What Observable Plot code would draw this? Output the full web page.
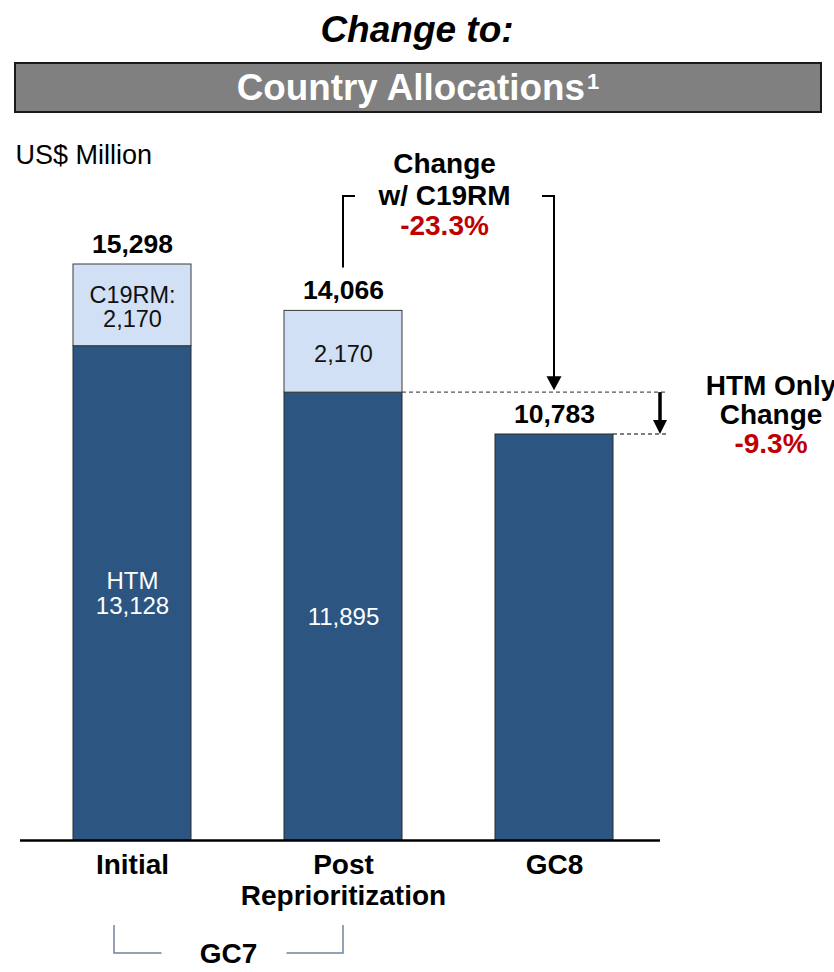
<!DOCTYPE html>
<html>
<head>
<meta charset="utf-8">
<script src="https://cdn.jsdelivr.net/npm/d3@7"></script>
<script src="https://cdn.jsdelivr.net/npm/@observablehq/plot@0.6"></script>
<style>
  html, body { margin: 0; padding: 0; background: #fff; }
  body { width: 834px; height: 972px; overflow: hidden; font-family: "Liberation Sans", Arial, sans-serif; }
  #hdr { position: relative; height: 130px; }
  #title { position: absolute; left: 0; top: 10px; width: 834px; text-align: center; font-weight: bold; font-style: italic; font-size: 37px; line-height: 40px; color: #000; }
  #box { position: absolute; left: 14px; top: 62px; width: 808px; height: 51px; box-sizing: border-box; background: #808080; border: 2px solid #1a1a1a; color: #fff; font-weight: bold; font-size: 36.8px; text-align: center; line-height: 47px; white-space: nowrap; }
  #box sup { font-size: 22px; position: relative; top: -11px; vertical-align: baseline; line-height: 0; margin-left: 2px; }
  #chart svg { display: block; }
</style>
</head>
<body>
<div id="hdr">
  <div id="title">Change to:</div>
  <div id="box">Country Allocations<sup>1</sup></div>
</div>
<div id="chart"></div>
<script>
// ---- data ----
const categories = ["Initial", "Post Reprioritization", "GC8"];
const tickLabels = ["Initial", "Post\nReprioritization", "GC8"];
const htmValues = [13128, 11895, 10783];
const c19rmValues = [2170, 2170, 0];
const totalValues = [15298, 14066, 10783];
const htmLabels = ["HTM\n13,128", "11,895", ""];
const c19rmLabels = ["C19RM:\n2,170", "2,170", ""];
const changeWithC19RM = "-23.3%";
const changeHTMOnly = "-9.3%";
const groupLabel = "GC7";

const rows = categories.map((c, i) => ({
  cat: c, htm: htmValues[i], c19: c19rmValues[i], total: totalValues[i],
  htmLabel: htmLabels[i], c19Label: c19rmLabels[i]
}));

const DARK = "#2C5681", LIGHT = "#D1E0F5", RED = "#C00000";
const FONT = "'Liberation Sans', Arial, sans-serif";
const W = 834, H = 842;

const chart = Plot.plot({
  width: W, height: H,
  marginLeft: 20, marginRight: 174, marginTop: 20, marginBottom: 132,
  style: { fontFamily: FONT, background: "#fff", overflow: "visible" },
  x: { type: "band", domain: categories, range: [72, 614], paddingInner: 0.443, paddingOuter: 0, axis: null },
  y: { domain: [0, d3.max(totalValues)], range: [710, 134], axis: null },
  marks: [
    Plot.barY(rows, { x: "cat", y1: 0, y2: "htm", fill: DARK, stroke: "#2a2a2a", strokeWidth: 1 }),
    Plot.barY(rows.filter(d => d.c19 > 0), { x: "cat", y1: "htm", y2: "total", fill: LIGHT, stroke: "#3a3a3a", strokeWidth: 1 }),
    Plot.ruleY([0], { stroke: "#000", strokeWidth: 2.5 }),
    Plot.text(rows, { x: "cat", y: d => d.htm / 2, text: "htmLabel", fill: "#fff", fontSize: 24, lineHeight: 1.05 }),
    Plot.text(rows.filter(d => d.c19 > 0), { x: "cat", y: d => d.htm + d.c19 / 2, text: "c19Label", fill: "#111", fontSize: 23.5, lineHeight: 1.04, dy: 2 }),
    Plot.text(rows, { x: "cat", y: "total", text: d => d3.format(",")(d.total), fontWeight: "bold", fontSize: 26.5, fill: "#000", dy: -20 }),
    Plot.axisX({ domain: categories, tickFormat: d => tickLabels[categories.indexOf(d)], tickSize: 0, tickPadding: 12.5, fontSize: 28, fontWeight: "bold", fill: "#000", lineHeight: 1.08, label: null }),
    Plot.text(["US$ Million"], { frameAnchor: "top-left", dx: -5, dy: -6, fontSize: 27, fill: "#000", textAnchor: "start" })
  ]
});

document.getElementById("chart").appendChild(chart);

// ---- annotations positioned via the chart's scales ----
const xs = chart.scale("x"), ys = chart.scale("y");
const bw = xs.bandwidth;
const cx = c => xs.apply(c) + bw / 2;
const right = c => xs.apply(c) + bw;
const svg = d3.select(chart);
const g = svg.append("g").attr("font-family", FONT);

const xPost = cx(categories[1]), xGC8 = cx(categories[2]), xInit = cx(categories[0]);
const yPostHTM = ys.apply(htmValues[1]);
const yGC8 = ys.apply(htmValues[2]);
const yPostTop = ys.apply(totalValues[1]);
const bracketY = 66;
const annX = (xPost + xGC8) / 2 - 4;

// Change w/ C19RM bracket
g.append("path").attr("d", `M${xPost},${yPostTop - 43} V${bracketY} H${xPost + 12}`)
  .attr("fill", "none").attr("stroke", "#000").attr("stroke-width", 2);
g.append("path").attr("d", `M${xGC8 - 12},${bracketY} H${xGC8} V${yPostHTM - 14}`)
  .attr("fill", "none").attr("stroke", "#000").attr("stroke-width", 2);
g.append("path").attr("d", `M${xGC8 - 7.5},${yPostHTM - 16} L${xGC8 + 7.5},${yPostHTM - 16} L${xGC8},${yPostHTM - 2} Z`).attr("fill", "#000");

const t1 = g.append("text").attr("text-anchor", "middle").attr("font-weight", "bold").attr("font-size", 28);
t1.append("tspan").attr("x", annX).attr("y", 43).text("Change");
t1.append("tspan").attr("x", annX).attr("y", 75).text("w/ C19RM");
t1.append("tspan").attr("x", annX).attr("y", 105).attr("fill", RED).text(changeWithC19RM);

// dashed reference lines
const dashX2 = 668;
g.append("line").attr("x1", right(categories[1])).attr("x2", dashX2).attr("y1", yPostHTM).attr("y2", yPostHTM)
  .attr("stroke", "#555").attr("stroke-width", 1.3).attr("stroke-dasharray", "4,3");
g.append("line").attr("x1", right(categories[2])).attr("x2", dashX2).attr("y1", yGC8).attr("y2", yGC8)
  .attr("stroke", "#555").attr("stroke-width", 1.3).attr("stroke-dasharray", "4,3");

// HTM only arrow
const ax = 660;
g.append("line").attr("x1", ax).attr("x2", ax).attr("y1", yPostHTM).attr("y2", yGC8 - 12)
  .attr("stroke", "#000").attr("stroke-width", 3.5);
g.append("path").attr("d", `M${ax - 7},${yGC8 - 14} L${ax + 7},${yGC8 - 14} L${ax},${yGC8} Z`).attr("fill", "#000");

const t2 = g.append("text").attr("text-anchor", "middle").attr("font-weight", "bold").attr("font-size", 28);
t2.append("tspan").attr("x", 771).attr("y", 265).text("HTM Only");
t2.append("tspan").attr("x", 771).attr("y", 294).text("Change");
t2.append("tspan").attr("x", 771).attr("y", 323).attr("fill", RED).text(changeHTMOnly);

// GC7 group bracket
const gy1 = 795, gy2 = 823;
const gcX = (xInit + xPost) / 2 - 9;
g.append("path").attr("d", `M${xInit - 18},${gy1} V${gy2} H${gcX - 67}`)
  .attr("fill", "none").attr("stroke", "#6E84A3").attr("stroke-width", 1.5);
g.append("path").attr("d", `M${gcX + 58},${gy2} H${xPost} V${gy1}`)
  .attr("fill", "none").attr("stroke", "#6E84A3").attr("stroke-width", 1.5);
g.append("text").attr("x", gcX).attr("y", gy2 + 10).attr("text-anchor", "middle").attr("font-weight", "bold")
  .attr("font-size", 28).text(groupLabel);
</script>
</body>
</html>
